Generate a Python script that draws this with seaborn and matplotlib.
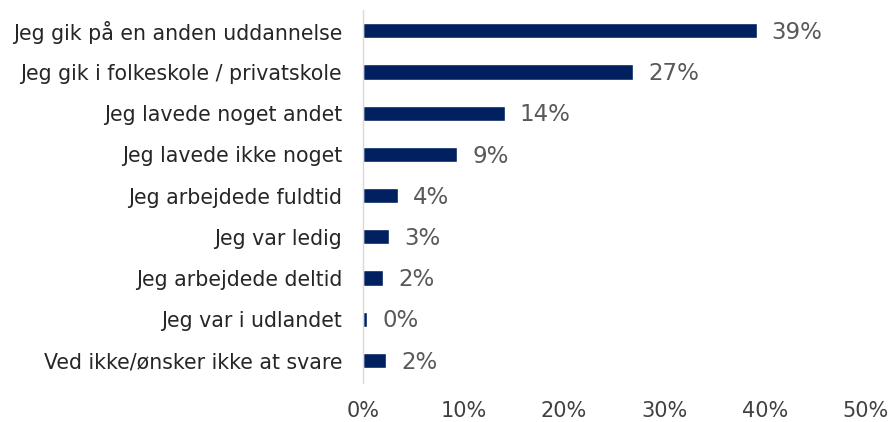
import matplotlib
matplotlib.use("Agg")
import matplotlib.pyplot as plt
import seaborn as sns
import pandas as pd

sns.set_theme(style="white")
plt.rcParams['font.family'] = ['DejaVu Sans']

# -------------------------------
# Data
# -------------------------------
categories = [
    "Jeg gik på en anden uddannelse",
    "Jeg gik i folkeskole / privatskole",
    "Jeg lavede noget andet",
    "Jeg lavede ikke noget",
    "Jeg arbejdede fuldtid",
    "Jeg var ledig",
    "Jeg arbejdede deltid",
    "Jeg var i udlandet",
    "Ved ikke/ønsker ikke at svare",
]
values = [39.2, 26.9, 14.1, 9.4, 3.5, 2.6, 2.0, 0.4, 2.3]
value_labels = ["39%", "27%", "14%", "9%", "4%", "3%", "2%", "0%", "2%"]
x_ticks = [0, 10, 20, 30, 40, 50]

df = pd.DataFrame({"category": categories, "value": values})

fig = plt.figure(figsize=(8.91, 4.22), dpi=100)
ax = fig.add_axes([0.4074, 0.092, 0.5635, 0.884])

sns.barplot(data=df, x="value", y="category", color="#002060",
            width=0.37, ax=ax, saturation=1)

for i, (v, lab) in enumerate(zip(values, value_labels)):
    ax.text(v + 1.5, i + 0.04, lab, va="center", ha="left",
            fontsize=16.5, color="#595959")

ax.set_xlim(0, 50)
ax.set_ylim(8.55, -0.5)
ax.set_xticks(x_ticks)
ax.set_xticklabels([f"{t}%" for t in x_ticks], fontsize=15, color="#404040")
ax.tick_params(axis="y", labelsize=14.8, labelcolor="#262626", length=0, pad=15)
ax.tick_params(axis="x", length=0, pad=13)
ax.set_xlabel("")
ax.set_ylabel("")

for s in ["top", "right", "bottom"]:
    ax.spines[s].set_visible(False)
ax.spines["left"].set_color("#d9d9d9")
ax.spines["left"].set_linewidth(1.0)

fig.savefig("out.png", dpi=100)
